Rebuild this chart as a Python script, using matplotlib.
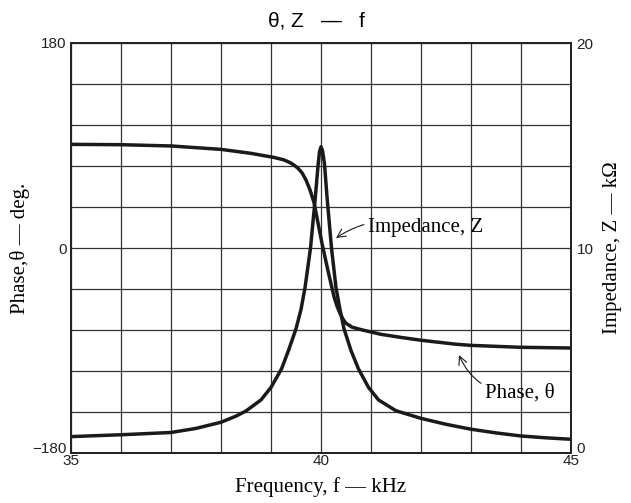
import matplotlib
matplotlib.use('Agg')
import matplotlib.pyplot as plt

# phase curve (kHz, degrees)
phase_freq = [35.0, 36.0, 37.0, 38.0, 38.6, 39.05, 39.25, 39.38, 39.47, 39.54,
              39.62, 39.70, 39.78, 39.86, 39.94, 40.02, 40.14, 40.26, 40.32,
              40.38, 40.44, 40.50, 40.62, 40.83, 41.2, 41.63, 42.0, 42.7,
              43.0, 44.0, 45.0]
phase_deg = [91.0, 90.7, 89.6, 86.6, 83.1, 79.6, 77.5, 75.0, 72.5, 70.0,
             66.0, 59.7, 51.0, 40.0, 22.0, 4.0, -20.0, -42.7, -51.0,
             -57.4, -62.5, -66.1, -69.5, -72.0, -75.8, -78.7, -81.0, -84.5,
             -85.5, -87.2, -87.8]

# impedance curve (kHz, kOhm)
z_freq = [35.0, 36.0, 37.0, 37.5, 38.0, 38.3, 38.5, 38.8, 39.0, 39.21,
          39.35, 39.5, 39.6, 39.68, 39.79, 39.88, 39.94, 39.97, 40.0,
          40.03, 40.07, 40.12, 40.21, 40.30, 40.38, 40.46, 40.6, 40.75,
          40.95, 41.15, 41.5, 42.0, 42.5, 43.0, 43.5, 44.0, 44.5, 45.0]
z_kohm = [0.8, 0.89, 1.0, 1.2, 1.5, 1.8, 2.05, 2.59, 3.2, 4.1,
          5.0, 6.06, 7.0, 8.06, 10.0, 12.3, 14.0, 14.7, 14.94,
          14.75, 14.1, 12.5, 10.0, 8.06, 7.0, 6.06, 5.0, 4.1,
          3.2, 2.59, 2.06, 1.69, 1.4, 1.16, 0.98, 0.83, 0.74, 0.67]

x_ticks = [35, 40, 45]
x_minor = [36, 37, 38, 39, 41, 42, 43, 44]
phase_ticks = [-180, 0, 180]
phase_labels = ['\u2212180', '0', '180']
phase_minor = [-144, -108, -72, -36, 36, 72, 108, 144]
z_ticks = [0, 10, 20]

serif = 'Liberation Serif'
sans = 'Liberation Sans'
ink = '#1a1a1a'

fig = plt.figure(figsize=(6.31, 5.03), dpi=100)
ax = fig.add_axes([71 / 631, 50 / 503, 500 / 631, 410 / 503])
ax2 = ax.twinx()

ax.set_xlim(35, 45)
ax.set_ylim(-180, 180)
ax2.set_ylim(0, 20)

ax.set_xticks(x_ticks)
ax.set_xticks(x_minor, minor=True)
ax.set_yticks(phase_ticks)
ax.set_yticklabels(phase_labels)
ax.set_yticks(phase_minor, minor=True)
ax2.set_yticks(z_ticks)

ax.grid(which='both', color='#333333', lw=0.9)
ax.set_axisbelow(True)
for a in (ax, ax2):
    a.tick_params(which='both', length=0, labelsize=11, colors='#222222')
    for lab in a.get_xticklabels() + a.get_yticklabels():
        lab.set_fontfamily(sans)
    for s in a.spines.values():
        s.set_linewidth(1.3)
        s.set_color('#222222')
ax.tick_params(axis='x', pad=1)
ax.tick_params(axis='y', pad=3)
ax2.tick_params(axis='y', pad=4)

# bottom labels sit on the lower spine instead of straddling it
ax.get_yticklabels()[0].set_va('baseline')
ax2.get_yticklabels()[0].set_va('baseline')

ax.plot(phase_freq, phase_deg, color=ink, lw=2.5, solid_joinstyle='round')
ax2.plot(z_freq, z_kohm, color=ink, lw=2.5, solid_joinstyle='round')

ax2.annotate('Impedance, Z', xy=(40.30, 10.49), xytext=(40.94, 11.02),
             ha='left', va='center', fontsize=15, family=serif,
             arrowprops=dict(arrowstyle='->', lw=0.8, color=ink,
                             connectionstyle='arc3,rad=0.25',
                             shrinkA=1, shrinkB=0))
ax.annotate('Phase, \u03b8', xy=(42.76, -94), xytext=(43.28, -127),
            ha='left', va='center', fontsize=15, family=serif,
            arrowprops=dict(arrowstyle='->', lw=0.8, color=ink,
                            connectionstyle='arc3,rad=-0.35',
                            shrinkA=1, shrinkB=0))

ax.set_xlabel('Frequency, f \u2014 kHz', fontsize=15, family=serif)
ax.xaxis.set_label_coords(0.5, -0.083)
ax.xaxis.label.set_va('center')
ax.set_ylabel('Phase,\u03b8 \u2014 deg.', fontsize=15, family=serif)
ax.yaxis.set_label_coords(-0.102, 0.5)
ax.yaxis.label.set_va('center')
ax2.set_ylabel('Impedance, Z \u2014 k\u03a9', fontsize=15, family=serif)
ax2.yaxis.set_label_coords(1.082, 0.5)
ax2.yaxis.label.set_va('center')

fig.text(316 / 631, 1 - 21 / 503, '\u03b8, Z   \u2014   f', ha='center',
         va='center', fontsize=15, family=sans)

fig.savefig('out.png', dpi=100)
